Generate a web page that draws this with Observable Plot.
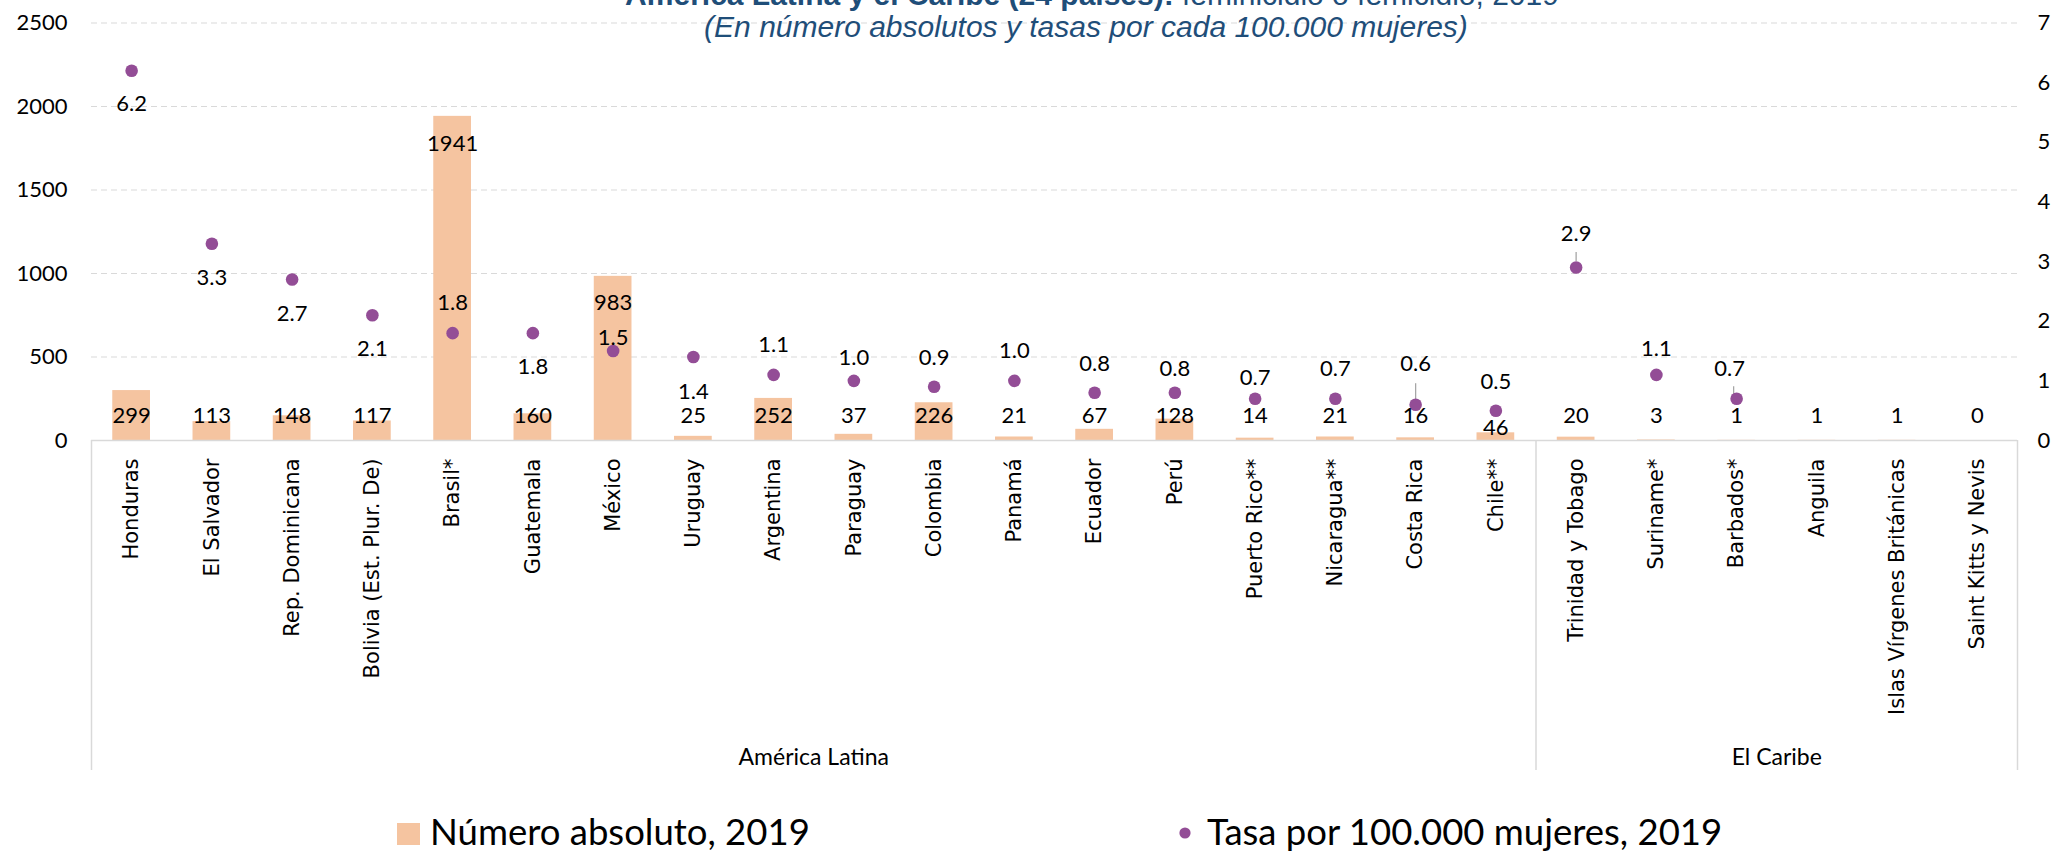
<!DOCTYPE html>
<html>
<head>
<meta charset="utf-8">
<script src="https://cdn.jsdelivr.net/npm/d3@7"></script>
<script src="https://cdn.jsdelivr.net/npm/@observablehq/plot@0.6"></script>
<style>
  html, body { margin: 0; padding: 0; background: #fff; }
  #wrap { position: relative; width: 2057px; height: 852px; overflow: hidden; background: #fff; }
  #chart { position: absolute; left: 0; top: 0; }
  #overlay { position: absolute; left: 0; top: 0; pointer-events: none; }
</style>
</head>
<body>
<div id="wrap">
  <div id="chart"></div>
  <svg id="overlay" width="2057" height="852"></svg>
</div>
<script>
// ---------------- DATA ----------------
const countries = [
  "Honduras", "El Salvador", "Rep. Dominicana", "Bolivia (Est. Plur. De)", "Brasil*",
  "Guatemala", "México", "Uruguay", "Argentina", "Paraguay", "Colombia", "Panamá",
  "Ecuador", "Perú", "Puerto Rico**", "Nicaragua**", "Costa Rica", "Chile**",
  "Trinidad y Tobago", "Suriname*", "Barbados*", "Anguila",
  "Islas Vírgenes Británicas", "Saint Kitts y Nevis"
];
const regions = [
  "América Latina", "América Latina", "América Latina", "América Latina", "América Latina",
  "América Latina", "América Latina", "América Latina", "América Latina", "América Latina",
  "América Latina", "América Latina", "América Latina", "América Latina", "América Latina",
  "América Latina", "América Latina", "América Latina",
  "El Caribe", "El Caribe", "El Caribe", "El Caribe", "El Caribe", "El Caribe"
];
const absolute2019 = [299, 113, 148, 117, 1941, 160, 983, 25, 252, 37, 226, 21, 67, 128, 14, 21, 16, 46, 20, 3, 1, 1, 1, 0];
const rate2019 = [6.2, 3.3, 2.7, 2.1, 1.8, 1.8, 1.5, 1.4, 1.1, 1.0, 0.9, 1.0, 0.8, 0.8, 0.7, 0.7, 0.6, 0.5, 2.9, 1.1, 0.7, null, null, null];
const leftTicks = [0, 500, 1000, 1500, 2000, 2500];
const rightTicks = [0, 1, 2, 3, 4, 5, 6, 7];
const regionNames = ["América Latina", "El Caribe"];
const seriesNames = ["Número absoluto, 2019", "Tasa por 100.000 mujeres, 2019"];
const titleBold = "América Latina y el Caribe (24 países):";
const titleRest = " feminicidio o femicidio, 2019";
const subtitle = "(En número absolutos y tasas por cada 100.000 mujeres)";

// ---------------- LAYOUT / STYLE ----------------
const W = 2057, H = 790, ML = 91, MR = 40, MT = 22.5, MB = 350;
const BAR = "#F5C4A0", DOT = "#934D96", GRID = "#d9d9d9", TITLE = "#1F4E79";
const step = (W - ML - MR) / countries.length;
const countMax = 2500, rateMax = 7;
const toCount = r => r * countMax / rateMax;
// label placement (px offsets), kept apart from the data
const countLabelAnchor = countries.map(c => (c === "Brasil*" || c === "México") ? "top" : "base");
const countLabelDy = countries.map(c => c === "Brasil*" ? 28 : c === "México" ? 27 : c === "Chile**" ? -13 : -25);
const rateLabelDy = [33, 34, 34, 34, -30, 34, -13, 35, -30, -23, -29, -30, -29, -24, -21, -30, -41, -29, -34, -26, -30, 0, 0, 0];
const rateLabelDx = countries.map(c => c === "Barbados*" ? -7 : 0);
const leaders = [
  {country: "Trinidad y Tobago", top: 15, bottom: 6},
  {country: "Costa Rica", top: 21, bottom: 4},
  {country: "Barbados*", top: 12, bottom: 4}
];

const rows = countries.map((c, i) => ({
  country: c, region: regions[i], count: absolute2019[i], rate: rate2019[i],
  cAnchor: countLabelAnchor[i], cDy: countLabelDy[i], rDy: rateLabelDy[i], rDx: rateLabelDx[i]
}));
const rated = rows.filter(d => d.rate != null);

const fmt1 = d3.format(".1f");
const labelFont = {fontFamily: "Lato", fontSize: 22, fill: "#000"};

const marks = [];
// gridlines
marks.push(Plot.ruleY(leftTicks.filter(t => t > 0), {stroke: GRID, strokeDasharray: "6,4", strokeWidth: 1.2}));
// bars
marks.push(Plot.barY(rows, {x: "country", y: "count", fill: BAR, insetLeft: step * 0.265, insetRight: step * 0.265}));
// baseline
marks.push(Plot.ruleY([0], {stroke: GRID, strokeWidth: 1.5}));
// region divider lines
const firsts = regionNames.map(r => rows.find(d => d.region === r));
for (const f of firsts) {
  marks.push(Plot.ruleX([f], {x: "country", y1: () => 0, y2: () => 0, insetBottom: -330, dx: -step / 2, stroke: GRID, strokeWidth: 1.5}));
}
marks.push(Plot.ruleX([rows[rows.length - 1]], {x: "country", y1: () => 0, y2: () => 0, insetBottom: -330, dx: step / 2, stroke: GRID, strokeWidth: 1.5}));
// axes
marks.push(Plot.axisY(leftTicks, {anchor: "left", tickSize: 0, tickPadding: 24, label: null,
  tickFormat: d => String(d), fontSize: 22, fontFamily: "Lato", fill: "#000"}));
marks.push(Plot.axisY(rightTicks.map(toCount), {anchor: "right", tickSize: 0, tickPadding: 20, label: null,
  tickFormat: d => String(Math.round(d * rateMax / countMax)), fontSize: 22, fontFamily: "Lato", fill: "#000"}));
marks.push(Plot.axisX({tickRotate: -90, tickSize: 0, tickPadding: 18, label: null, fontSize: 21, fontFamily: "DejaVu Sans", fill: "#000"}));
// leader lines
for (const l of leaders) {
  const d = rows.find(r => r.country === l.country);
  marks.push(Plot.ruleX([d], {x: "country", y1: r => toCount(r.rate), y2: r => toCount(r.rate), insetTop: -l.top, insetBottom: l.bottom, dx: l.country === "Barbados*" ? -3 : 0, stroke: "#a6a6a6", strokeWidth: 1.3}));
}
// dots
marks.push(Plot.dot(rated, {x: "country", y: d => toCount(d.rate), r: 6.3, fill: DOT, stroke: "none"}));
// count labels
for (const d of rows) {
  marks.push(Plot.text([d], {x: "country", y: d.cAnchor === "top" ? "count" : () => 0, text: r => String(r.count), dy: d.cDy, ...labelFont}));
}
// rate labels
for (const d of rated) {
  marks.push(Plot.text([d], {x: "country", y: r => toCount(r.rate), text: r => fmt1(r.rate), dy: d.rDy, dx: d.rDx, ...labelFont}));
}
// region labels
for (const r of regionNames) {
  const members = rows.filter(d => d.region === r);
  marks.push(Plot.text([members[0]], {x: "country", y: () => 0, text: () => r, dx: (members.length - 1) / 2 * step, dy: 317, fontFamily: "Lato", fontSize: 23, fill: "#000"}));
}

const chart = Plot.plot({
  width: W, height: H,
  marginLeft: ML, marginRight: MR, marginTop: MT, marginBottom: MB,
  x: {domain: countries, padding: 0, round: false, axis: null},
  y: {domain: [0, countMax], axis: null},
  style: {fontFamily: "Lato", fontSize: "22px", color: "#000", background: "transparent", overflow: "visible"},
  marks
});
document.getElementById("chart").appendChild(chart);

// ---------------- TITLE + LEGEND (overlay) ----------------
const ov = d3.select("#overlay");
const t = ov.append("text").attr("x", 1092).attr("y", 5).attr("text-anchor", "middle")
  .attr("font-family", "Liberation Sans, Arial, sans-serif").attr("font-size", 30).attr("fill", TITLE);
t.append("tspan").attr("font-weight", "bold").text(titleBold);
t.append("tspan").text(titleRest);
ov.append("text").attr("x", 1086).attr("y", 36.5).attr("text-anchor", "middle")
  .attr("font-family", "Liberation Sans, Arial, sans-serif").attr("font-style", "italic")
  .attr("font-size", 30).attr("fill", TITLE).text(subtitle);

ov.append("rect").attr("x", 397).attr("y", 823).attr("width", 23).attr("height", 22).attr("fill", BAR);
ov.append("text").attr("x", 430).attr("y", 845).attr("font-family", "Lato").attr("font-size", 36.5).attr("fill", "#000").text(seriesNames[0]);
ov.append("circle").attr("cx", 1185).attr("cy", 833).attr("r", 5.6).attr("fill", DOT);
ov.append("text").attr("x", 1207).attr("y", 845).attr("font-family", "Lato").attr("font-size", 36.5).attr("fill", "#000").text(seriesNames[1]);
</script>
</body>
</html>
